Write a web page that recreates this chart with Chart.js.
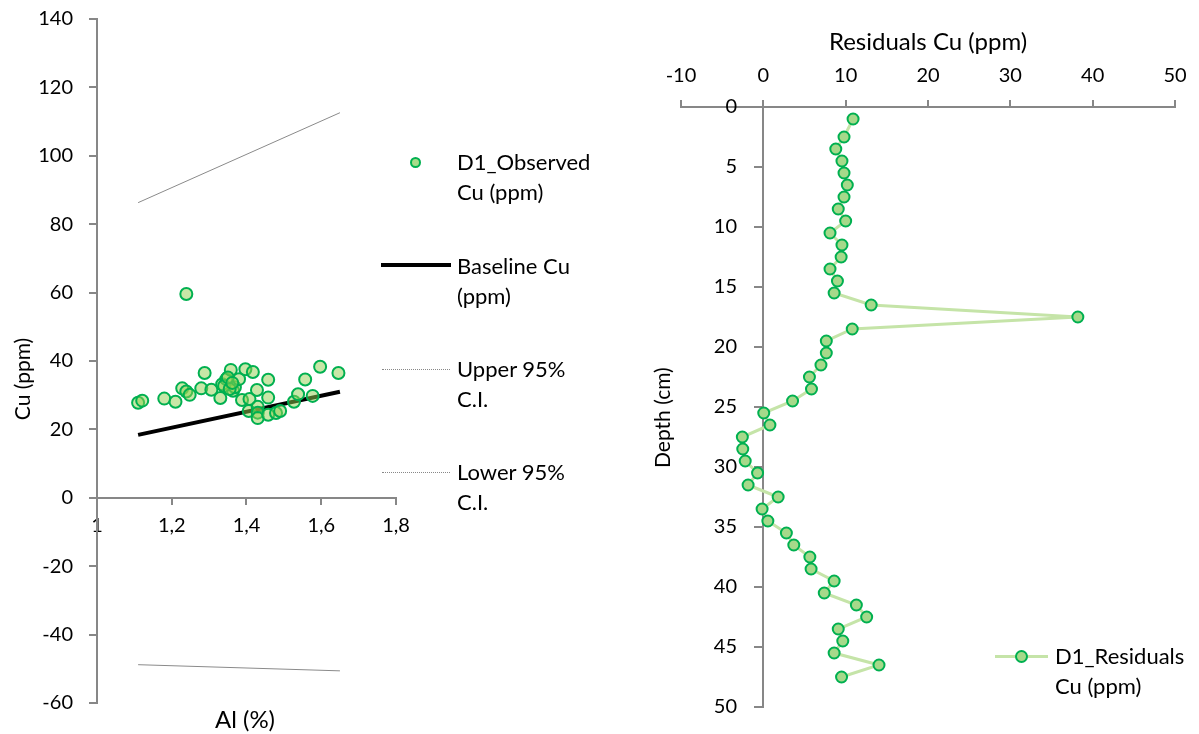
<!DOCTYPE html>
<html>
<head>
<meta charset="utf-8">
<script src="https://cdn.jsdelivr.net/npm/chart.js@4.4.1/dist/chart.umd.min.js"></script>
<style>
  html, body { margin: 0; padding: 0; background: #fff; }
  body { width: 1199px; height: 734px; position: relative; overflow: hidden; font-family: Lato, "Open Sans", sans-serif; color: #000; }
  #c1 { position: absolute; left: 0; top: 0; }
  #c2 { position: absolute; left: 600px; top: 0; }
  .txt { position: absolute; white-space: nowrap; line-height: 30px; }
  .title { font-size: 24px; }
  .leg { font-size: 22px; }
  .vtitle { position: absolute; transform: rotate(-90deg); transform-origin: center center; white-space: nowrap; font-size: 21px; line-height: 30px; }
  .mk { position: absolute; box-sizing: border-box; border-radius: 50%; }
  .ln { position: absolute; }
</style>
</head>
<body>
<canvas id="c1" width="600" height="734"></canvas>
<canvas id="c2" width="599" height="734"></canvas>

<div class="txt title" style="left:245px; top:704px; transform:translateX(-50%);">Al (%)</div>
<div class="vtitle" style="left:-28px; top:364px; width:100px; text-align:center;">Cu (ppm)</div>
<div class="txt title" style="left:928px; top:26px; transform:translateX(-50%);">Residuals Cu (ppm)</div>
<div class="vtitle" style="left:612px; top:403px; width:100px; text-align:center;">Depth (cm)</div>

<!-- left legend -->
<div class="mk" style="left:410px; top:157px; width:11px; height:11px; background:#a9dc8a; border:2px solid #00b050;"></div>
<div class="txt leg" style="left:457px; top:147px;">D1_Observed<br>Cu (ppm)</div>
<div class="ln" style="left:381px; top:263px; width:70px; height:4px; background:#000;"></div>
<div class="txt leg" style="left:457px; top:251px;">Baseline Cu<br>(ppm)</div>
<div class="ln" style="left:382px; top:369px; width:68px; border-top:1px dotted #888;"></div>
<div class="txt leg" style="left:457px; top:354px;">Upper 95%<br>C.I.</div>
<div class="ln" style="left:382px; top:472px; width:68px; border-top:1px dotted #888;"></div>
<div class="txt leg" style="left:457px; top:457px;">Lower 95%<br>C.I.</div>

<!-- right legend -->
<div class="ln" style="left:995px; top:655px; width:53px; height:3px; background:#c5e4a8;"></div>
<div class="mk" style="left:1015px; top:650px; width:13px; height:13px; background:#a6d98a; border:2px solid #00b050;"></div>
<div class="txt leg" style="left:1055px; top:641px;">D1_Residuals<br>Cu (ppm)</div>

<script>
// ---------- Data: left chart (Cu vs Al) ----------
const alValues = [1.239, 1.110, 1.121, 1.180, 1.210, 1.228, 1.239, 1.248, 1.288, 1.279,
                  1.306, 1.330, 1.335, 1.346, 1.358, 1.364, 1.369, 1.380, 1.397, 1.417,
                  1.388, 1.408, 1.428, 1.458, 1.458, 1.406, 1.430, 1.430, 1.430, 1.458,
                  1.479, 1.490, 1.527, 1.538, 1.557, 1.577, 1.597, 1.646, 1.340, 1.355,
                  1.350, 1.362];
const cuValues = [59.6, 27.8, 28.4, 29.0, 28.1, 32.0, 31.1, 30.1, 36.5, 32.0,
                  31.6, 29.2, 33.2, 34.7, 37.4, 31.3, 32.3, 34.7, 37.6, 36.8,
                  28.6, 28.9, 31.5, 34.5, 29.3, 25.4, 26.6, 24.9, 23.3, 24.3,
                  24.8, 25.4, 28.1, 30.3, 34.6, 29.8, 38.3, 36.5, 32.7, 31.8,
                  35.2, 33.6];
const lineAl = [1.11, 1.65];
const baselineCu = [18.4, 31.0];
const upperCI = [86.3, 112.6];
const lowerCI = [-48.8, -50.6];
const alTicks = {1: "1", 1.2: "1,2", 1.4: "1,4", 1.6: "1,6", 1.8: "1,8"};

// ---------- Data: right chart (residuals vs depth) ----------
const depths = [1, 2.5, 3.5, 4.5, 5.5, 6.5, 7.5, 8.5, 9.5, 10.5, 11.5, 12.5, 13.5, 14.5, 15.5,
                16.5, 17.5, 18.5, 19.5, 20.5, 21.5, 22.5, 23.5, 24.5, 25.5, 26.5, 27.5, 28.5,
                29.5, 30.5, 31.5, 32.5, 33.5, 34.5, 35.5, 36.5, 37.5, 38.5, 39.5, 40.5, 41.5,
                42.5, 43.5, 44.5, 45.5, 46.5, 47.5];
const residuals = [10.9, 9.8, 8.8, 9.55, 9.8, 10.2, 9.8, 9.1, 10.0, 8.1, 9.55, 9.45, 8.1, 9.0, 8.6,
                   13.1, 38.2, 10.8, 7.65, 7.65, 7.0, 5.6, 5.85, 3.55, 0.05, 0.8, -2.55, -2.5,
                   -2.2, -0.7, -1.85, 1.8, -0.15, 0.55, 2.8, 3.7, 5.65, 5.8, 8.6, 7.4, 11.3,
                   12.55, 9.1, 9.65, 8.6, 14.05, 9.5];

const FONT = "Lato";
Chart.defaults.font.family = FONT;
Chart.defaults.color = "#000";
Chart.defaults.animation = false;
const AXIS = "#878787";
const TICK_FONT = { size: 20 };
const CLEAR = "rgba(0,0,0,0)";

const pts = (xs, ys) => xs.map((x, i) => ({x: x, y: ys[i]}));

new Chart(document.getElementById("c1"), {
  type: "scatter",
  data: {
    datasets: [
      { label: "D1_Observed Cu (ppm)", data: pts(alValues, cuValues),
        pointRadius: 6, pointBackgroundColor: "rgba(146,208,80,0.5)",
        pointBorderColor: "#00b050", pointBorderWidth: 2, showLine: false },
      { label: "Baseline Cu (ppm)", data: pts(lineAl, baselineCu), showLine: true,
        borderColor: "#000", borderWidth: 4, pointRadius: 0 },
      { label: "Upper 95% C.I.", data: pts(lineAl, upperCI), showLine: true,
        borderColor: "#8a8a8a", borderWidth: 1, pointRadius: 0 },
      { label: "Lower 95% C.I.", data: pts(lineAl, lowerCI), showLine: true,
        borderColor: "#8a8a8a", borderWidth: 1, pointRadius: 0 }
    ]
  },
  options: {
    responsive: false,
    layout: { padding: { left: 0, right: 204, top: 19, bottom: 31 } },
    plugins: { legend: { display: false }, tooltip: { enabled: false } },
    scales: {
      x: {
        type: "linear", position: { y: 0 }, min: 1, max: 1.8,
        ticks: { stepSize: 0.2, font: TICK_FONT, padding: 10,
                 callback: v => alTicks[Math.round(v * 10) / 10] ?? "" },
        grid: { drawOnChartArea: false, drawTicks: true, tickLength: 6, color: AXIS, lineWidth: 2 },
        border: { color: AXIS, width: 2 }
      },
      // labelled Cu axis (invisible long ticks give the gap between labels and axis)
      y: {
        type: "linear", position: "left", min: -60, max: 140,
        afterFit: s => { s.width = 97; },
        ticks: { stepSize: 20, font: TICK_FONT, padding: 0 },
        grid: { drawOnChartArea: false, drawTicks: true, tickLength: 24, color: CLEAR },
        border: { display: false }
      },
      // visible Cu axis line and tick marks
      y2: {
        type: "linear", axis: "y", position: { x: 1 }, min: -60, max: 140,
        ticks: { stepSize: 20, display: false },
        grid: { drawOnChartArea: false, drawTicks: true, tickLength: 7, color: AXIS, lineWidth: 2 },
        border: { color: AXIS, width: 2 }
      }
    }
  }
});

new Chart(document.getElementById("c2"), {
  type: "scatter",
  data: {
    datasets: [
      { label: "D1_Residuals Cu (ppm)", data: pts(residuals, depths), showLine: true,
        borderColor: "#c5e4a8", borderWidth: 3, tension: 0,
        pointRadius: 5.5, pointBackgroundColor: "#a6d98a",
        pointBorderColor: "#00b050", pointBorderWidth: 2 }
    ]
  },
  options: {
    responsive: false,
    layout: { padding: { left: 81, right: 24, top: 0, bottom: 27 } },
    plugins: { legend: { display: false }, tooltip: { enabled: false } },
    scales: {
      x: {
        type: "linear", position: "top", min: -10, max: 50,
        afterFit: s => { s.height = 107; },
        ticks: { stepSize: 10, font: TICK_FONT, padding: 12 },
        grid: { drawOnChartArea: false, drawTicks: true, tickLength: 7, color: AXIS, lineWidth: 2 },
        border: { color: AXIS, width: 2 }
      },
      // labelled depth axis: anchored slightly left of x = 0 so labels clear the tick marks
      y: {
        type: "linear", position: { x: -3.2 }, min: 0, max: 50, reverse: true,
        ticks: { stepSize: 5, font: TICK_FONT },
        grid: { drawOnChartArea: false, drawTicks: false },
        border: { display: false }
      },
      // visible depth axis line and tick marks at x = 0
      y2: {
        type: "linear", axis: "y", position: { x: 0 }, min: 0, max: 50, reverse: true,
        ticks: { stepSize: 5, display: false },
        grid: { drawOnChartArea: false, drawTicks: true, tickLength: 8, color: AXIS, lineWidth: 2 },
        border: { color: AXIS, width: 2 }
      }
    }
  }
});
</script>
</body>
</html>
